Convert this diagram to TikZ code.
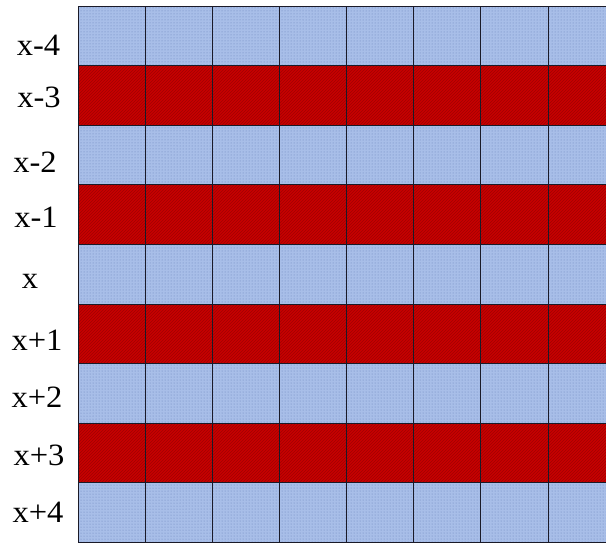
\documentclass[tikz,border=0pt]{standalone}
\usepackage{fontspec}
\setmainfont{Liberation Serif}
\usetikzlibrary{patterns}
\definecolor{cellblue}{HTML}{A8BEE8}
\definecolor{dotblue}{HTML}{6A82BC}
\definecolor{cellred}{HTML}{C80000}
\definecolor{hatchred}{HTML}{A00000}
\definecolor{gridline}{HTML}{1A1A28}

\begin{document}
\begin{tikzpicture}[x=1pt, y=-1pt,
  bluerow/.style={fill=cellblue, postaction={pattern=dots, pattern color=dotblue}},
  redrow/.style={fill=cellred, postaction={pattern=north east lines, pattern color=hatchred}},
  gridrule/.style={draw=gridline, line width=0.9pt},
  rowlabel/.style={font=\fontsize{31}{31}\selectfont, inner sep=0pt, xscale=1.05}
]
  \useasboundingbox (0,0) rectangle (606,542);

  % striped rows, cut off at the right and bottom
  \begin{scope}
    \clip (0,0) rectangle (606,542);
    \foreach \r/\kind in {0/bluerow,1/redrow,2/bluerow,3/redrow,4/bluerow,5/redrow,6/bluerow,7/redrow,8/bluerow}
      \path[\kind] (78.5,{6+59.6*\r}) rectangle (615,{6+59.6*(\r+1)});
    % grid lines
    \foreach \c in {0,...,8}
      \draw[gridrule] ({78.5+67.07*\c},6) -- ({78.5+67.07*\c},560);
    \foreach \r in {0,...,9}
      \draw[gridrule] (78.5,{6+59.6*\r}) -- (615,{6+59.6*\r});
  \end{scope}

  % row labels
  \foreach \t/\lx/\ly [count=\i from 0] in {x-4/38.5/45, x-3/39/97, x-2/35/162, x-1/36/217,
      x/30/281, x+1/37/340, x+2/37/397, x+3/39/455, x+4/38/512}
    \node[rowlabel] (lab\i) at (\lx,\ly) {\t};
\end{tikzpicture}
\end{document}
